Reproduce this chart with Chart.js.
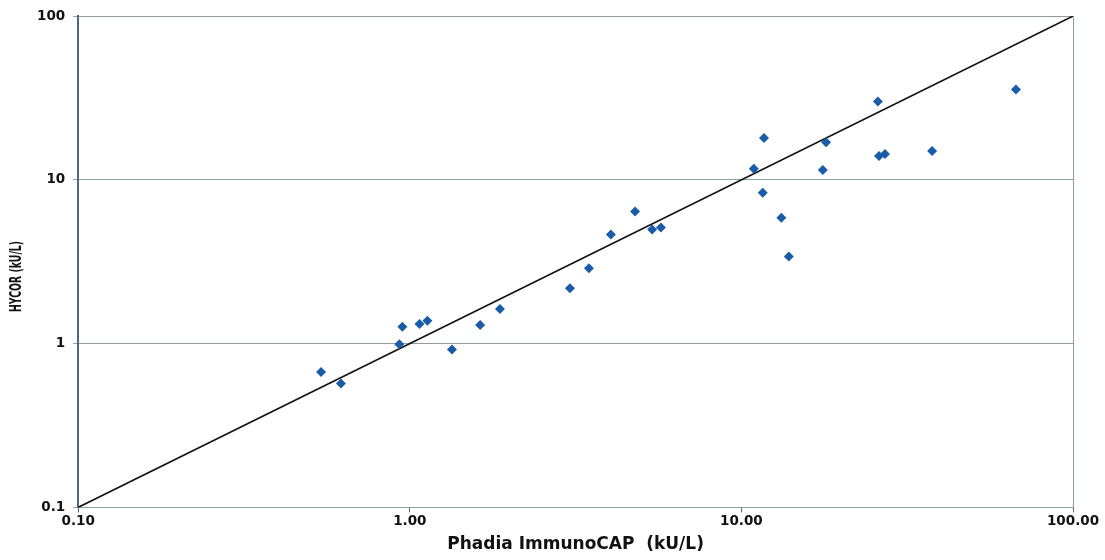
<!DOCTYPE html>
<html>
<head>
<meta charset="utf-8">
<script src="https://cdn.jsdelivr.net/npm/chart.js@4/dist/chart.umd.min.js"></script>
<style>
  html, body { margin: 0; padding: 0; background: #fff; }
  #wrap { width: 1105px; height: 560px; }
</style>
</head>
<body>
<div id="wrap"><canvas id="chart" width="1105" height="560"></canvas></div>
<script>
// Phadia ImmunoCAP (x) vs HYCOR (y), kU/L
const capValues = [0.54, 0.62, 0.93, 0.95, 1.07, 1.13, 1.34, 1.63, 1.87, 3.04, 3.47, 4.04, 4.78, 5.38, 5.72,
  10.9, 11.7, 11.6, 13.2, 13.9, 17.6, 18.0, 25.8, 26.0, 27.1, 37.6, 67.3];
const hycorValues = [0.67, 0.57, 0.99, 1.27, 1.32, 1.38, 0.92, 1.30, 1.63, 2.18, 2.89, 4.64, 6.40, 4.98, 5.12,
  11.7, 18.0, 8.34, 5.88, 3.41, 11.5, 17.0, 30.1, 14.0, 14.4, 15.0, 35.6];
const identityLine = [0.1, 100];
const xTicks = [0.1, 1, 10, 100];
const xTickLabels = ["0.10", "1.00", "10.00", "100.00"];
const yTicks = [0.1, 1, 10, 100];
const yTickLabels = ["0.1", "1", "10", "100"];

const axisColor = "#51697a";
const gridColor = "#8f9ca6";
const font = { family: "'DejaVu Sans', sans-serif", size: 13.5, weight: "bold" };

// right frame line + y axis title (drawn so it can sit a bit below centre like the original)
const framePlugin = {
  id: "frame",
  afterDraw(chart) {
    const a = chart.chartArea, ctx = chart.ctx;
    ctx.save();
    ctx.strokeStyle = gridColor;
    ctx.lineWidth = 1;
    ctx.beginPath();
    ctx.moveTo(a.right + 0.5, a.top);
    ctx.lineTo(a.right + 0.5, a.bottom);
    ctx.stroke();

    ctx.translate(17, a.top + (a.bottom - a.top) * 0.53);
    ctx.rotate(-Math.PI / 2);
    ctx.scale(0.62, 1);
    ctx.fillStyle = "#111";
    ctx.font = "bold 15px 'DejaVu Sans', sans-serif";
    ctx.textAlign = "center";
    ctx.textBaseline = "middle";
    ctx.fillText("HYCOR (kU/L)", 0, 0);
    ctx.restore();
  }
};

new Chart(document.getElementById("chart"), {
  type: "scatter",
  data: {
    datasets: [
      {
        label: "Samples",
        data: capValues.map((v, i) => ({ x: v, y: hycorValues[i] })),
        pointStyle: "rectRot",
        pointRadius: 5,
        backgroundColor: "#1a5ca8",
        borderColor: "#1a5ca8",
        borderWidth: 0,
        order: 1
      },
      {
        label: "y = x",
        type: "line",
        data: identityLine.map(v => ({ x: v, y: v })),
        borderColor: "#111",
        borderWidth: 1.6,
        pointRadius: 0,
        fill: false,
        order: 2
      }
    ]
  },
  options: {
    responsive: false,
    animation: false,
    layout: { padding: { left: 29, right: 32, top: -5, bottom: 5 } },
    plugins: { legend: { display: false }, tooltip: { enabled: false } },
    scales: {
      x: {
        type: "logarithmic",
        min: 0.1,
        max: 100,
        afterBuildTicks(axis) { axis.ticks = xTicks.map(v => ({ value: v })); },
        ticks: {
          color: "#111",
          font: font,
          padding: 1,
          maxRotation: 0,
          callback: (v) => xTickLabels[xTicks.indexOf(v)]
        },
        grid: { display: true, drawOnChartArea: false, drawTicks: true, tickLength: 5, color: axisColor },
        border: { display: true, color: gridColor, width: 1 },
        title: {
          display: true,
          text: "Phadia ImmunoCAP  (kU/L)",
          color: "#111",
          font: { family: "'DejaVu Sans', sans-serif", size: 17, weight: "bold" },
          padding: { top: 4, bottom: 0 }
        }
      },
      y: {
        type: "logarithmic",
        min: 0.1,
        max: 100,
        afterBuildTicks(axis) { axis.ticks = yTicks.map(v => ({ value: v })); },
        ticks: {
          color: "#111",
          font: font,
          padding: 8,
          callback: (v) => yTickLabels[yTicks.indexOf(v)]
        },
        grid: { display: true, color: gridColor, lineWidth: 1, drawTicks: true, tickLength: 5 },
        border: { display: true, color: axisColor, width: 2 },
        title: { display: false }
      }
    }
  },
  plugins: [framePlugin]
});
</script>
</body>
</html>
